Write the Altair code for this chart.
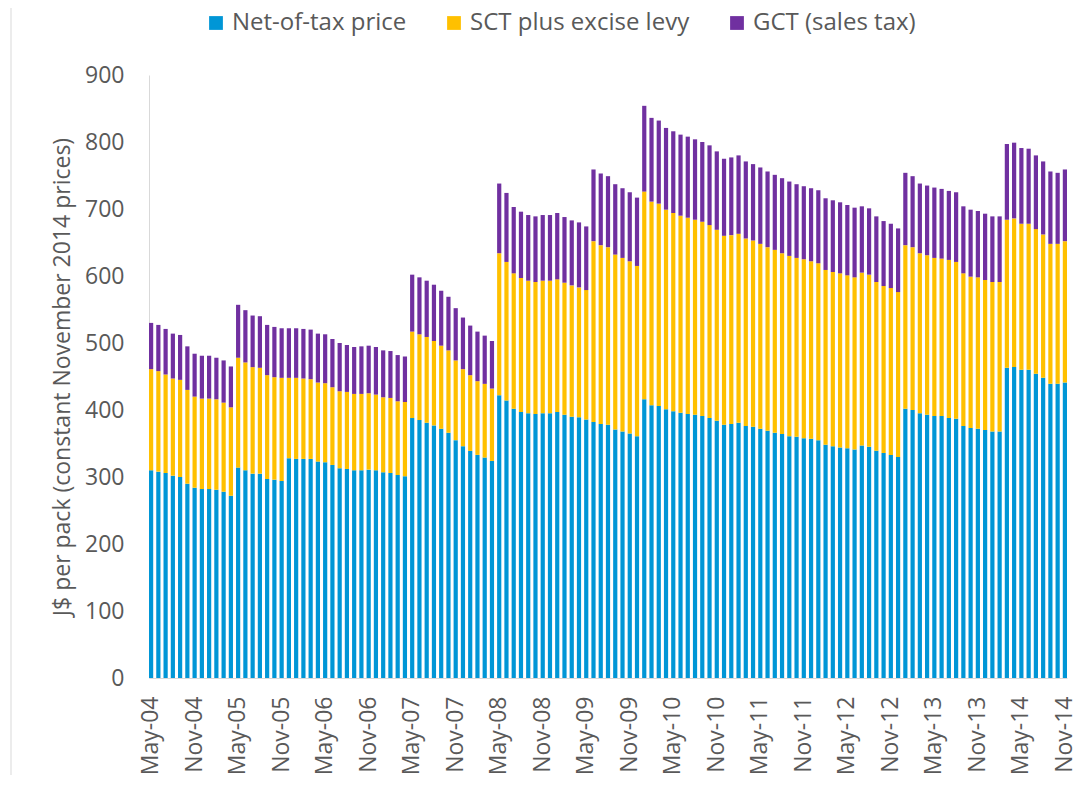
import altair as alt
import pandas as pd

# Monthly categories May-04 .. Nov-14 (127 months)
months = [d.strftime("%b-%y") for d in pd.date_range("2004-05-01", periods=127, freq="MS")]
tick_months = months[::6]

series_names = ["Net-of-tax price", "SCT plus excise levy", "GCT (sales tax)"]
series_colors = ["#0096D6", "#FFC000", "#7030A0"]

net_price = [
    310, 308, 306, 302, 300, 290, 284, 282, 282, 281, 278, 272,
    314, 310, 305, 305, 297, 296, 294, 328, 327, 327, 327, 323,
    322, 318, 313, 312, 310, 310, 311, 310, 307, 306, 303, 301,
    388, 385, 381, 377, 372, 366, 355, 346, 339, 333, 329, 324,
    422, 414, 402, 397, 395, 394, 395, 395, 397, 393, 390, 389,
    386, 382, 379, 378, 371, 368, 365, 361, 416, 407, 406, 401,
    398, 396, 394, 393, 391, 388, 384, 378, 379, 381, 376, 375,
    372, 369, 366, 364, 361, 360, 358, 357, 355, 348, 346, 344,
    343, 341, 347, 345, 339, 336, 333, 330, 402, 400, 395, 393,
    391, 391, 388, 387, 376, 373, 372, 370, 368, 368, 463, 464,
    460, 460, 454, 448, 439, 439, 441,
]
sct_levy = [
    151, 150, 147, 145, 145, 140, 136, 135, 135, 135, 133, 132,
    164, 161, 159, 158, 155, 153, 154, 120, 121, 120, 119, 118,
    118, 116, 115, 115, 114, 114, 114, 113, 112, 112, 110, 111,
    129, 128, 128, 126, 124, 123, 119, 115, 113, 110, 110, 108,
    212, 207, 202, 200, 198, 197, 198, 198, 198, 197, 196, 194,
    193, 270, 267, 265, 261, 259, 257, 254, 310, 304, 302, 298,
    296, 294, 293, 291, 290, 288, 285, 282, 282, 282, 280, 278,
    276, 274, 273, 270, 269, 267, 267, 265, 264, 261, 260, 260,
    258, 257, 258, 257, 252, 249, 249, 246, 244, 243, 239, 238,
    236, 235, 236, 234, 228, 226, 226, 224, 223, 223, 221, 222,
    218, 218, 216, 214, 209, 209, 211,
]
gct_tax = [
    69, 69, 68, 67, 67, 65, 64, 64, 64, 62, 63, 61,
    79, 78, 77, 77, 75, 75, 74, 74, 74, 74, 74, 73,
    73, 72, 72, 70, 70, 71, 71, 71, 70, 70, 69, 68,
    85, 85, 84, 84, 82, 80, 78, 77, 74, 74, 72, 71,
    104, 103, 99, 99, 98, 98, 98, 98, 99, 98, 97, 97,
    95, 107, 107, 106, 105, 104, 103, 102, 128, 125, 124, 122,
    122, 121, 121, 120, 119, 119, 117, 115, 116, 117, 115, 114,
    114, 113, 112, 112, 111, 110, 109, 109, 109, 107, 107, 106,
    105, 104, 99, 99, 98, 97, 96, 95, 108, 106, 104, 104,
    105, 104, 103, 104, 100, 100, 99, 99, 98, 98, 113, 113,
    113, 112, 110, 109, 108, 106, 107,
]

rows = []
for i, m in enumerate(months):
    for k, (name, vals) in enumerate(zip(series_names, [net_price, sct_levy, gct_tax])):
        rows.append({"month": m, "series": name, "order": k, "value": vals[i]})
df = pd.DataFrame(rows)

TXT = "#595959"
FONT = "Open Sans"
FS = 23
W, H = 918, 603

bars = alt.Chart(df).mark_bar().encode(
    x=alt.X(
        "month:N",
        sort=months,
        scale=alt.Scale(paddingInner=0.42, paddingOuter=0),
        axis=alt.Axis(
            values=tick_months, labelAngle=-90, ticks=False, labelPadding=18,
            domainColor="#D9D9D9", domainWidth=1, labelFontSize=FS,
            labelColor=TXT, labelFont=FONT, title=None, grid=False,
        ),
    ),
    y=alt.Y(
        "value:Q",
        stack="zero",
        scale=alt.Scale(domain=[0, 900], nice=False),
        axis=alt.Axis(
            values=list(range(0, 1000, 100)), domain=True, domainColor="#D9D9D9",
            domainWidth=1, ticks=False, grid=False,
            labelPadding=25, labelFontSize=FS, labelColor=TXT, labelFont=FONT,
            title="J$ per pack (constant November 2014 prices)",
            titleFontSize=FS, titleFontWeight="normal", titleColor=TXT, titleFont=FONT,
            titleAngle=-90, titleX=-87, titleY=H / 2, titleAlign="center",
            titleBaseline="middle",
        ),
    ),
    color=alt.Color(
        "series:N",
        scale=alt.Scale(domain=series_names, range=series_colors),
        legend=alt.Legend(
            orient="none", legendX=55, legendY=-64, direction="horizontal",
            title=None, symbolType="square", symbolSize=190, symbolStrokeWidth=0,
            labelFontSize=24, labelColor=TXT, labelFont=FONT, columnPadding=35,
            padding=0, labelOffset=4, labelLimit=400,
        ),
    ),
    order=alt.Order("order:Q", sort="ascending"),
)

border = alt.Chart(pd.DataFrame({"a": [0]})).mark_rule(color="#D9D9D9", strokeWidth=1).encode(
    x=alt.value(-138), y=alt.value(-75), y2=alt.value(H + 110)
)

chart = alt.layer(bars, border).properties(
    width=W, height=H,
    padding={"left": 141, "top": 67, "right": 8, "bottom": 97},
    autosize=alt.AutoSizeParams(type="none"),
).configure_view(stroke=None)

chart.save("out.html", embed_options={"renderer": "svg", "actions": False})
